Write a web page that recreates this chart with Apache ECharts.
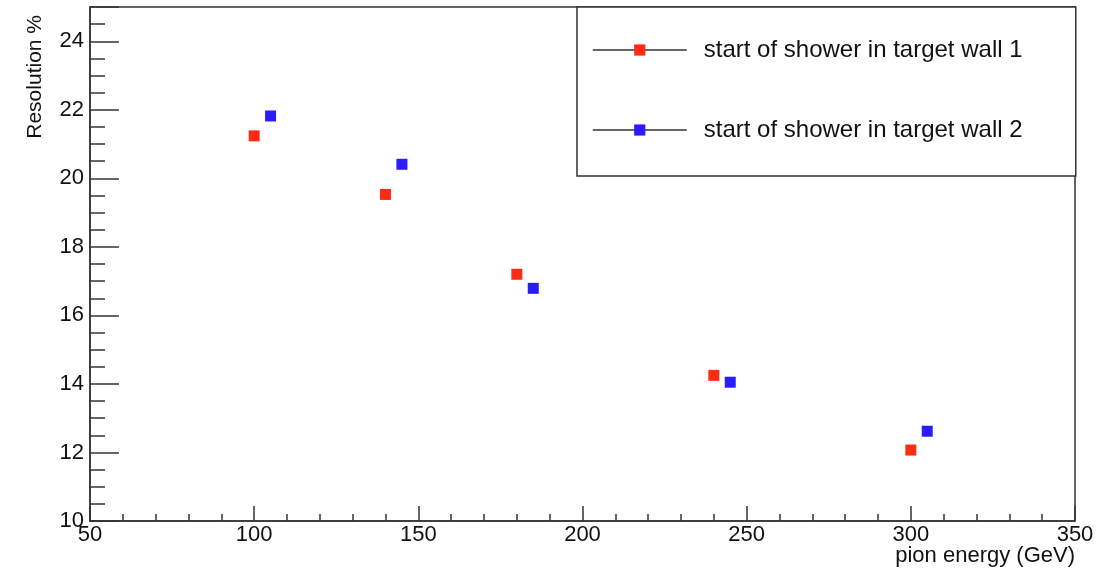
<!DOCTYPE html>
<html>
<head>
<meta charset="utf-8">
<script src="https://cdn.jsdelivr.net/npm/echarts@6/dist/echarts.min.js"></script>
<style>
    html, body { margin: 0; padding: 0; background: #fff; }
    #chart { width: 1111px; height: 570px; }
</style>
</head>
<body>
<div id="chart"></div>
<script>
// data
const seriesNames = ['start of shower in target wall 1', 'start of shower in target wall 2'];
const wall1Energy = [100, 140, 180, 240, 300];
const wall1Resolution = [21.24, 19.53, 17.2, 14.25, 12.07];
const wall2Energy = [105, 145, 185, 245, 305];
const wall2Resolution = [21.82, 20.41, 16.79, 14.05, 12.62];
const seriesColors = ['#ff2b12', '#2b1bff'];

const FONT = 'Liberation Sans, Arial, sans-serif';
const AXIS_COLOR = '#333';

function toPoints(xs, ys) {
    return xs.map((x, i) => [x, ys[i]]);
}

const myChart = echarts.init(document.getElementById('chart'));

const option = {
    animation: false,
    backgroundColor: '#fff',
    grid: {
        left: 90, right: 36, top: 7, bottom: 49,
        show: true,
        borderColor: AXIS_COLOR,
        borderWidth: 1.5
    },
    xAxis: {
        type: 'value',
        min: 50, max: 350, interval: 50,
        axisLine: { show: true, lineStyle: { color: AXIS_COLOR, width: 1.5 } },
        axisTick: { show: true, inside: true, length: 15, lineStyle: { color: AXIS_COLOR, width: 1.5 } },
        minorTick: { show: true, splitNumber: 5, length: 7, lineStyle: { color: AXIS_COLOR, width: 1.5 } },
        splitLine: { show: false },
        axisLabel: { fontSize: 22, color: '#111', fontFamily: FONT, margin: 3 }
    },
    yAxis: [{
        // minor ticks every 0.5, labels only on the even values
        type: 'value',
        position: 'left',
        min: 10, max: 25, interval: 0.5,
        axisLine: { show: true, lineStyle: { color: AXIS_COLOR, width: 1.5 } },
        axisTick: { show: true, inside: true, length: 15, lineStyle: { color: AXIS_COLOR, width: 1.5 } },
        splitLine: { show: false },
        axisLabel: {
            interval: 0,
            fontSize: 22, color: '#111', fontFamily: FONT, margin: 6,
            formatter: function (v) { return v % 2 === 0 ? String(v) : ''; }
        }
    }, {
        // long major ticks
        type: 'value',
        position: 'left',
        min: 10, max: 25, interval: 2,
        axisLine: { show: false },
        axisTick: { show: true, inside: true, length: 29, lineStyle: { color: AXIS_COLOR, width: 1.5 } },
        splitLine: { show: false },
        axisLabel: { show: false }
    }],
    legend: {
        orient: 'vertical',
        left: 577, top: 7,
        padding: [31, 32, 34, 15],
        itemGap: 56,
        itemWidth: 94,
        itemHeight: 14,
        borderColor: AXIS_COLOR,
        borderWidth: 1.5,
        backgroundColor: '#fff',
        lineStyle: { color: AXIS_COLOR, width: 1.5, opacity: 1, type: 'solid' },
        textStyle: {
            fontSize: 24, color: '#111', fontFamily: FONT,
            lineHeight: 20, width: 340, padding: [0, 0, 0, 12]
        },
        data: seriesNames
    },
    graphic: [{
        type: 'text',
        x: 35, y: 15,
        rotation: Math.PI / 2,
        style: {
            text: 'Resolution %',
            font: '21px ' + FONT,
            fill: '#111',
            align: 'right',
            verticalAlign: 'middle'
        }
    }, {
        type: 'text',
        x: 1075, y: 556,
        style: {
            text: 'pion energy (GeV)',
            font: '22px ' + FONT,
            fill: '#111',
            align: 'right',
            verticalAlign: 'middle'
        }
    }],
    series: [{
        name: seriesNames[0],
        type: 'line',
        symbol: 'rect',
        symbolSize: 11,
        showSymbol: true,
        lineStyle: { width: 0, opacity: 0 },
        itemStyle: { color: seriesColors[0] },
        data: toPoints(wall1Energy, wall1Resolution)
    }, {
        name: seriesNames[1],
        type: 'line',
        symbol: 'rect',
        symbolSize: 11,
        showSymbol: true,
        lineStyle: { width: 0, opacity: 0 },
        itemStyle: { color: seriesColors[1] },
        data: toPoints(wall2Energy, wall2Resolution)
    }]
};

myChart.setOption(option);
</script>
</body>
</html>
